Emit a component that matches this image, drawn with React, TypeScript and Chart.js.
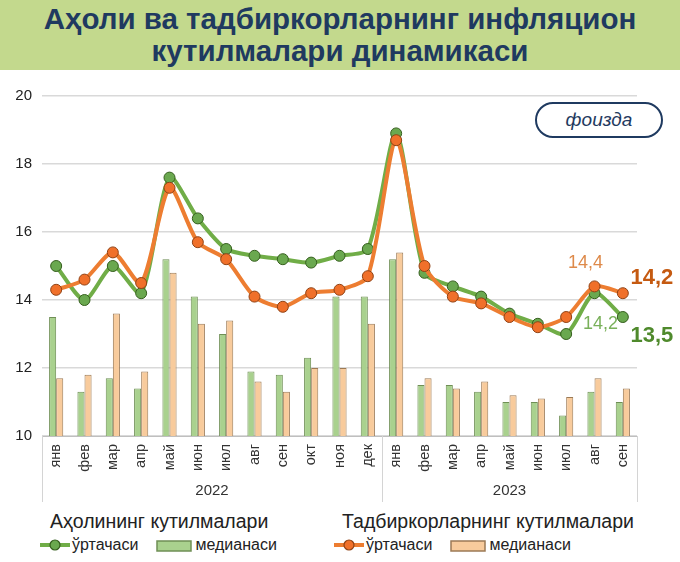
import React, { useEffect, useRef } from "react";
import { Chart, registerables } from "chart.js";
Chart.register(...registerables);

const months = ["янв", "фев", "мар", "апр", "май", "июн", "июл", "авг", "сен", "окт", "ноя", "дек", "янв", "фев", "мар", "апр", "май", "июн", "июл", "авг", "сен"];
const years = ["2022", "2023"];
const yearCounts = [12, 9];
const popMean = [15.0, 14.0, 15.0, 14.2, 17.6, 16.4, 15.5, 15.3, 15.2, 15.1, 15.3, 15.5, 18.9, 14.8, 14.4, 14.1, 13.6, 13.3, 13.0, 14.2, 13.5];
const popMedian = [13.5, 11.3, 11.7, 11.4, 15.2, 14.1, 13.0, 11.9, 11.8, 12.3, 14.1, 14.1, 15.2, 11.5, 11.5, 11.3, 11.0, 11.0, 10.6, 11.3, 11.0];
const bizMean = [14.3, 14.6, 15.4, 14.5, 17.3, 15.7, 15.2, 14.1, 13.8, 14.2, 14.3, 14.7, 18.7, 15.0, 14.1, 13.9, 13.5, 13.2, 13.5, 14.4, 14.2];
const bizMedian = [11.7, 11.8, 13.6, 11.9, 14.8, 13.3, 13.4, 11.6, 11.3, 12.0, 12.0, 13.3, 15.4, 11.7, 11.4, 11.6, 11.2, 11.1, 11.15, 11.7, 11.4];
const yMin = 10;
const yMax = 20;
const yStep = 2;

const fmt = (v: number) => v.toFixed(1).replace(".", ",");

const FONT = '"Liberation Sans", Arial, sans-serif';
const NAVY = "#1f3a60";

const annotationPlugin = {
  id: "annots",
  afterDatasetsDraw(chart: any) {
    const ctx = chart.ctx;
    const x = chart.scales.x;
    const y = chart.scales.y;
    const n = months.length;
    const items = [
      { text: fmt(bizMean[n - 2]), i: n - 2, v: bizMean[n - 2], dx: -9, dy: -23, font: `18px ${FONT}`, color: "#de8a4a" },
      { text: fmt(bizMean[n - 1]), i: n - 1, v: bizMean[n - 1], dx: 29, dy: -15, font: `bold 22px ${FONT}`, color: "#c55a11" },
      { text: fmt(popMean[n - 2]), i: n - 2, v: popMean[n - 2], dx: 6, dy: 31, font: `18px ${FONT}`, color: "#79b05a" },
      { text: fmt(popMean[n - 1]), i: n - 1, v: popMean[n - 1], dx: 29, dy: 19, font: `bold 22px ${FONT}`, color: "#4f8a2c" },
    ];
    ctx.save();
    ctx.textAlign = "center";
    ctx.textBaseline = "middle";
    for (const it of items) {
      ctx.font = it.font;
      ctx.fillStyle = it.color;
      ctx.fillText(it.text, x.getPixelForValue(it.i) + it.dx, y.getPixelForValue(it.v) + it.dy);
    }
    ctx.restore();
  },
  afterDraw(chart: any) {
    const ctx = chart.ctx;
    const x = chart.scales.x;
    const area = chart.chartArea;
    const top = area.bottom;
    const bottom = area.bottom + 66;
    ctx.save();
    ctx.strokeStyle = "#d4d4d4";
    ctx.lineWidth = 1;
    let start = 0;
    const bounds: number[] = [area.left];
    yearCounts.forEach((c) => {
      start += c;
      if (start < months.length) {
        bounds.push((x.getPixelForValue(start - 1) + x.getPixelForValue(start)) / 2);
      } else {
        bounds.push(area.right);
      }
    });
    bounds.forEach((b) => {
      ctx.beginPath();
      ctx.moveTo(Math.round(b) + 0.5, top);
      ctx.lineTo(Math.round(b) + 0.5, bottom);
      ctx.stroke();
    });
    ctx.fillStyle = "#333";
    ctx.font = `15px ${FONT}`;
    ctx.textAlign = "center";
    ctx.textBaseline = "middle";
    years.forEach((yr, k) => {
      ctx.fillText(yr, (bounds[k] + bounds[k + 1]) / 2, area.bottom + 55);
    });
    ctx.restore();
  },
};

function LineMarker({ line, fill, stroke }: { line: string; fill: string; stroke: string }) {
  return (
    <svg width="30" height="14" style={{ verticalAlign: "middle" }}>
      <line x1="0" y1="7" x2="30" y2="7" stroke={line} strokeWidth="4" />
      <circle cx="15" cy="7" r="5" fill={fill} stroke={stroke} strokeWidth="1.2" />
    </svg>
  );
}

function BoxMarker({ fill, stroke }: { fill: string; stroke: string }) {
  return (
    <svg width="36" height="14" style={{ verticalAlign: "middle" }}>
      <rect x="1" y="2" width="34" height="10" fill={fill} stroke={stroke} strokeWidth="1.5" />
    </svg>
  );
}

export default function App() {
  const ref = useRef<HTMLCanvasElement | null>(null);
  useEffect(() => {
    if (!ref.current) return;
    const chart = new Chart(ref.current, {
      type: "bar",
      data: {
        labels: months,
        datasets: [
          {
            type: "line",
            label: "Тадбиркорларнинг ўртачаси",
            data: bizMean,
            borderColor: "#ed7d31",
            borderWidth: 4,
            backgroundColor: "#f0702a",
            pointBackgroundColor: "#f0702a",
            pointBorderColor: "#8f4215",
            pointBorderWidth: 1,
            pointRadius: 5.5,
            tension: 0.25,
            order: 0,
          } as any,
          {
            type: "line",
            label: "Аҳолининг ўртачаси",
            data: popMean,
            borderColor: "#70ad47",
            borderWidth: 4,
            backgroundColor: "#6aa84f",
            pointBackgroundColor: "#6aa84f",
            pointBorderColor: "#355e1d",
            pointBorderWidth: 1,
            pointRadius: 5.5,
            tension: 0.25,
            order: 1,
          } as any,
          {
            type: "bar",
            label: "Аҳолининг медианаси",
            data: popMedian,
            backgroundColor: "#a9d18e",
            borderColor: "#6f8f55",
            borderWidth: 1,
            categoryPercentage: 0.5,
            barPercentage: 1.0,
            order: 2,
          },
          {
            type: "bar",
            label: "Тадбиркорларнинг медианаси",
            data: bizMedian,
            backgroundColor: "#f8cb9c",
            borderColor: "#9c7a55",
            borderWidth: 1,
            categoryPercentage: 0.5,
            barPercentage: 1.0,
            order: 3,
          },
        ],
      },
      options: {
        responsive: false,
        animation: false,
        devicePixelRatio: 1,
        layout: { padding: { top: 26, right: 43, left: 0, bottom: 0 } },
        plugins: { legend: { display: false }, tooltip: { enabled: false } },
        scales: {
          x: {
            grid: { display: false, drawTicks: false },
            border: { display: true, color: "#bfbfbf", width: 1 },
            ticks: {
              minRotation: 90,
              maxRotation: 90,
              autoSkip: false,
              padding: 8,
              color: "#333",
              font: { size: 14.5, family: FONT },
            },
            afterFit: (s: any) => {
              s.height = 72;
            },
          },
          y: {
            min: yMin,
            max: yMax,
            ticks: {
              stepSize: yStep,
              padding: 10,
              color: "#222",
              font: { size: 15, family: FONT },
            },
            grid: { color: "#d9d9d9", lineWidth: 1.5, drawTicks: false },
            border: { display: false },
            afterFit: (s: any) => {
              s.width = 42;
            },
          },
        },
      },
      plugins: [annotationPlugin],
    });
    return () => chart.destroy();
  }, []);

  return (
    <div style={{ position: "absolute", left: 0, top: 0, width: 680, height: 562, background: "#fff", fontFamily: FONT, overflow: "hidden" }}>
      <div
        style={{
          position: "absolute",
          left: 0,
          top: 0,
          width: 680,
          height: 70,
          background: "#c3d98d",
          color: NAVY,
          fontWeight: "bold",
          fontSize: 29.5,
          lineHeight: "32px",
          textAlign: "center",
          paddingTop: 3,
          boxSizing: "border-box",
          whiteSpace: "nowrap",
        }}
      >
        Аҳоли ва тадбиркорларнинг инфляцион
        <br />
        кутилмалари динамикаси
      </div>
      <canvas ref={ref} width={680} height={438} style={{ position: "absolute", left: 0, top: 70, width: 680, height: 438 }} />
      <div
        style={{
          position: "absolute",
          left: 535,
          top: 102,
          width: 128,
          height: 36,
          border: `2px solid ${NAVY}`,
          borderRadius: 18,
          boxSizing: "border-box",
          background: "#fff",
          color: NAVY,
          fontStyle: "italic",
          fontSize: 19,
          lineHeight: "32px",
          textAlign: "center",
        }}
      >
        фоизда
      </div>
      <div style={{ position: "absolute", left: 50, top: 510, fontSize: 19.5, color: "#222", whiteSpace: "nowrap" }}>Аҳолининг кутилмалари</div>
      <div style={{ position: "absolute", left: 342, top: 510, fontSize: 19.5, color: "#222", whiteSpace: "nowrap" }}>Тадбиркорларнинг кутилмалари</div>
      <div style={{ position: "absolute", left: 40, top: 536, fontSize: 16, color: "#222", whiteSpace: "nowrap", display: "flex", alignItems: "center" }}>
        <LineMarker line="#70ad47" fill="#6aa84f" stroke="#355e1d" />
        <span style={{ marginLeft: 2 }}>ўртачаси</span>
        <span style={{ marginLeft: 18 }}><BoxMarker fill="#a9d18e" stroke="#6f8f55" /></span>
        <span style={{ marginLeft: 3 }}>медианаси</span>
      </div>
      <div style={{ position: "absolute", left: 334, top: 536, fontSize: 16, color: "#222", whiteSpace: "nowrap", display: "flex", alignItems: "center" }}>
        <LineMarker line="#ed7d31" fill="#f0702a" stroke="#8f4215" />
        <span style={{ marginLeft: 2 }}>ўртачаси</span>
        <span style={{ marginLeft: 18 }}><BoxMarker fill="#f8cb9c" stroke="#9c7a55" /></span>
        <span style={{ marginLeft: 3 }}>медианаси</span>
      </div>
    </div>
  );
}
